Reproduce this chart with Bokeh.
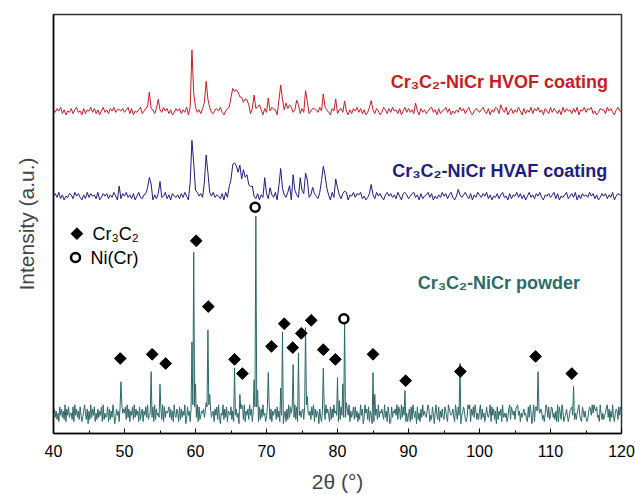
from math import pi
from bokeh.plotting import figure
from bokeh.models import Range1d, SingleIntervalTicker, FixedTicker
from bokeh.core.properties import value
from bokeh.embed import file_html
from bokeh.resources import INLINE

# ---- data (2-theta in degrees, intensity in arbitrary units 0..100) ----
X_START = 40.0
POWDER_STEP = 0.125
COATING_STEP = 0.25

# hand-typed baseline jitter digits (one per sample, 40..120)
powder_noise = "".join([
    "4736251847", "3629174835", "5281947362", "8413695270",
    "6293748152", "7364819253", "4817263950", "3746182957",
    "5829371648", "2937461825", "7164839205", "6381927453",
    "4729183656", "8372619437", "5182736490", "2846173958",
    "7391824657", "3628194735", "6174829305", "4927381654",
    "8261947350", "5738291647", "2947165838", "6182739451",
    "3859271646", "7283619450", "4617293858", "5392817463",
    "6728193546", "2849173650", "7316482957", "4182739564",
    "6152847393", "2749163582", "8361529470", "3957281640",
    "5184729365", "7429361850", "1836574928", "6293847151",
    "4718295360", "8251739464", "3697142850", "5942816373",
    "2863197545", "7319528460", "4586213979", "1748396252",
    "6927351484", "3591847260", "8264719353", "5137928646",
    "2789461535", "7452183960", "3918264757", "6241597382",
    "4873526191", "8529613474", "1367849252", "5794218636",
    "3126874959", "7683419525", "2458937163", "9315762848", "5"])
hvof_noise = "".join([
    "5364725143", "6257341625", "4736251473", "5264731546",
    "3572614357", "2463715264", "5374625136", "4625371465",
    "7352641573", "2564731462", "5736425173", "4265374516",
    "3647251637", "5264735142", "6375241653", "7462531647",
    "2563741526", "4736251374", "5264137526", "3745261473",
    "6352741635", "2467351624", "5736142537", "4625731465",
    "3574261537", "6245371462", "5374162537", "2647351642",
    "7364251736", "4526371547", "3657241365", "5274631574", "4"])
hvaf_noise = "".join([
    "4637251436", "5274631527", "3645271364", "6253741526",
    "4735261473", "2564371526", "6347251643", "5263741537",
    "2746351624", "7354261735", "4625371546", "3574261537",
    "6245371462", "5374162537", "2647351642", "7364251736",
    "4526371547", "3657241365", "5274631574", "6352741635",
    "2467351624", "5736142537", "4625731465", "3574261537",
    "5364725143", "6257341625", "4736251473", "5264731546",
    "3572614357", "2463715264", "5374625136", "4625371465", "5"])

# baselines and jitter scale
powder_base, powder_amp = 4.6, 0.5
hvof_base, hvof_amp = 77.1, 0.3
hvaf_base, hvaf_amp = 56.8, 0.3

# peaks: position (deg) and rise above baseline
powder_peak_x = [49.5, 53.5, 53.75, 55.0, 59.5, 59.75, 60.0, 61.5, 61.75, 62.0,
                 65.5, 66.25, 66.5, 68.25, 68.5, 68.75, 70.25, 72.0, 72.25,
                 73.75, 74.5, 75.5, 75.75, 78.0, 80.0, 80.25, 80.75, 81.0, 81.25,
                 85.0, 85.25, 89.5, 97.25, 108.0, 108.25, 113.25]
powder_peak_h = [9.0, 2.0, 9.4, 7.4, 18.0, 38.4, 6.0, 4.0, 21.9, 5.0,
                 8.8, 4.5, 3.0, 8.0, 48.0, 5.0, 9.7, 4.0, 19.4,
                 11.6, 13.4, 22.4, 5.0, 11.2, 8.0, 3.0, 6.0, 20.0, 4.0,
                 9.7, 3.0, 4.4, 11.4, 3.0, 10.4, 4.4]

hvof_peak_x = [49.0, 53.25, 53.5, 53.75, 54.75, 59.25, 59.5, 59.75, 61.25, 61.5, 61.75,
               64.75, 65.0, 65.25, 65.5, 65.75, 66.0, 66.25, 66.5, 66.75, 67.0, 67.25, 67.5,
               68.25, 68.5, 69.0, 70.25, 71.0, 71.75, 72.0, 72.25, 72.75, 73.25,
               74.25, 74.5, 75.5, 75.75, 76.5, 78.0, 78.25, 79.75, 81.0, 84.75, 91.0, 103.0]
hvof_peak_h = [1.3, 1.5, 3.6, 1.5, 2.8, 1.0, 14.0, 4.0, 2.0, 8.0, 2.5,
               1.5, 3.0, 4.5, 5.0, 4.5, 4.5, 4.0, 3.0, 3.0, 2.0, 3.0, 1.5,
               3.5, 1.0, 1.5, 2.5, 1.0, 2.0, 6.5, 2.0, 2.5, 1.5,
               3.5, 1.5, 4.0, 2.0, 1.5, 3.5, 1.5, 2.0, 1.5, 2.5, 1.0, 1.5]

hvaf_peak_x = [49.25, 53.25, 53.5, 53.75, 55.0, 59.25, 59.5, 59.75, 60.0, 61.25, 61.5, 61.75, 62.0,
               64.75, 65.0, 65.25, 65.5, 65.75, 66.0, 66.25, 66.5, 66.75, 67.0, 67.25, 67.5, 67.75, 68.0,
               69.75, 70.5, 71.75, 72.0, 72.25, 73.25, 73.75, 74.0, 74.75, 75.0, 75.5, 75.75,
               76.5, 77.75, 78.0, 78.25, 78.5, 79.75, 80.0, 81.0, 84.75, 89.5, 97.0]
hvaf_peak_h = [2.1, 2.0, 4.8, 2.0, 2.9, 3.0, 13.6, 7.0, 2.0, 3.0, 10.7, 5.0, 1.5,
               2.0, 4.0, 7.0, 8.5, 7.0, 6.0, 6.5, 5.0, 6.0, 4.5, 4.5, 3.0, 2.0, 1.5,
               3.5, 2.0, 2.5, 6.0, 2.5, 2.5, 4.5, 2.0, 3.5, 2.0, 5.5, 3.0,
               3.0, 4.0, 6.5, 5.0, 2.5, 3.5, 2.0, 1.5, 2.5, 1.2, 1.0]

# phase markers
cr3c2_x = [49.4, 53.9, 55.8, 60.1, 61.8, 65.5, 66.6, 70.7, 72.5, 73.7, 74.9, 76.3,
           78.0, 79.7, 85.0, 89.6, 97.3, 107.9, 113.0]
cr3c2_y = [17.9, 18.9, 16.7, 46.0, 30.3, 17.7, 14.3, 20.8, 26.2, 20.5, 23.9, 27.0,
           20.0, 17.7, 18.9, 12.6, 14.8, 18.4, 14.3]
nicr_x = [68.4, 80.9]
nicr_y = [54.0, 27.4]

# labels
series_labels = ["Cr\u2083C\u2082-NiCr HVOF coating", "Cr\u2083C\u2082-NiCr HVAF coating",
                 "Cr\u2083C\u2082-NiCr powder"]
series_label_x = [87.5, 87.7, 91.3]
series_label_y = [84.0, 62.6, 35.8]
series_colors = ["#c41e24", "#1e1e82", "#2c6b6b"]
legend_labels = ["Cr\u2083C\u2082", "Ni(Cr)"]
legend_marker_x = [43.3, 43.1]
legend_text_x = [45.5, 45.2]
legend_y = [47.7, 42.0]

x_label = "2\u03b8 (\u00b0)"
y_label = "Intensity (a.u.)"


def build(noise, step, base, amp, px, ph):
    xs = [X_START + step * i for i in range(len(noise))]
    ys = [base + (int(c) - 4.5) * amp for c in noise]
    for x, h in zip(px, ph):
        i = int(round((x - X_START) / step))
        if 0 <= i < len(ys):
            ys[i] += h
    return xs, ys


FONT = value("Liberation Sans")

p = figure(width=635, height=495, x_range=Range1d(40, 120), y_range=Range1d(0, 100),
           output_backend="svg", toolbar_location=None,
           min_border_left=53, min_border_right=14, min_border_top=14, min_border_bottom=62)
p.grid.visible = False
p.background_fill_color = "white"
p.border_fill_color = "white"
p.outline_line_color = "#333333"
p.outline_line_width = 1.5

px_, py_ = build(powder_noise, POWDER_STEP, powder_base, powder_amp, powder_peak_x, powder_peak_h)
vx, vy = build(hvof_noise, COATING_STEP, hvof_base, hvof_amp, hvof_peak_x, hvof_peak_h)
ax, ay = build(hvaf_noise, COATING_STEP, hvaf_base, hvaf_amp, hvaf_peak_x, hvaf_peak_h)

p.line(px_, py_, line_color="#2f6868", line_width=1)
p.line(ax, ay, line_color="#1e1e82", line_width=1)
p.line(vx, vy, line_color="#c41e24", line_width=1)

p.scatter(cr3c2_x, cr3c2_y, marker="square", size=8.3, angle=pi / 4,
          fill_color="black", line_color="black")
p.scatter(nicr_x, nicr_y, marker="circle", size=9, fill_color="white",
          line_color="black", line_width=2.5)

# legend (drawn as marks + text)
p.scatter([legend_marker_x[0]], [legend_y[0]], marker="square", size=8.3, angle=pi / 4,
          fill_color="black", line_color="black")
p.scatter([legend_marker_x[1]], [legend_y[1]], marker="circle", size=9, fill_color="white",
          line_color="black", line_width=2.5)
p.text(x=legend_text_x, y=legend_y, text=legend_labels, text_font=FONT,
       text_font_size="18px", text_color="black", text_baseline="middle", text_align="left")

p.text(x=series_label_x, y=series_label_y, text=series_labels, text_font=FONT,
       text_font_size="18px", text_font_style="bold", text_color=series_colors,
       text_baseline="middle", text_align="left")

# axes
xa = p.xaxis[0]
xa.ticker = SingleIntervalTicker(interval=10, num_minor_ticks=2)
xa.axis_label = x_label
xa.axis_label_text_font = "Liberation Sans"
xa.axis_label_text_font_size = "21px"
xa.axis_label_text_font_style = "normal"
xa.axis_label_standoff = 10
xa.major_label_text_font = "Liberation Sans"
xa.major_label_text_font_size = "16px"
xa.major_label_text_color = "black"
xa.major_label_standoff = 11
xa.major_tick_in = 5
xa.major_tick_out = 0
xa.minor_tick_in = 3
xa.minor_tick_out = 0
xa.axis_line_width = 1.5
xa.axis_line_color = "black"
xa.major_tick_line_color = "black"
xa.minor_tick_line_color = "black"

ya = p.yaxis[0]
ya.ticker = FixedTicker(ticks=[])
ya.axis_label = y_label
ya.axis_label_text_font = "Liberation Sans"
ya.axis_label_text_font_size = "21px"
ya.axis_label_text_font_style = "normal"
ya.axis_label_standoff = 16
ya.major_label_standoff = 0
ya.major_tick_line_color = None
ya.minor_tick_line_color = None
ya.major_tick_out = 0
ya.major_tick_in = 0
ya.axis_line_width = 1.5
ya.axis_line_color = "black"

open("out.html", "w").write(file_html(p, INLINE))
